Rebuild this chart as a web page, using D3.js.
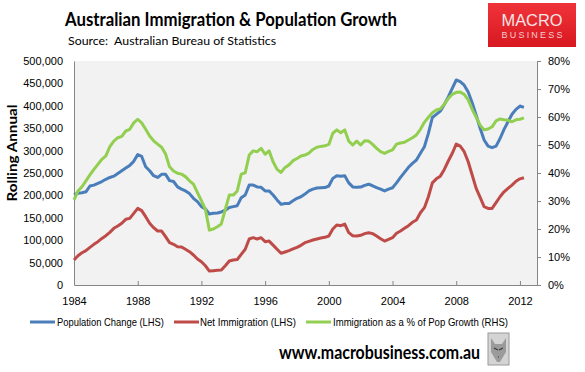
<!DOCTYPE html>
<html>
<head>
<meta charset="utf-8">
<script src="https://cdn.jsdelivr.net/npm/d3@7"></script>
<style>
  html, body { margin: 0; padding: 0; background: #fff; }
  svg { display: block; }
</style>
</head>
<body>
<svg id="chart"></svg>
<script>
// Quarterly data, 1984 Q1 .. 2012 Q2
var startYear = 1984;
var quarterCount = 114;

// Population change, rolling annual (thousands, LHS)
var popChange = [
  201, 205, 206, 208,   221, 223, 227, 231,   236, 240, 243, 249,   255, 261, 267, 276,
  291, 287, 264, 255,   244, 240, 247, 247,   233, 231, 219, 214,   210, 204, 193.5, 186,
  175, 170, 158.5, 160, 160.7, 163, 167, 173, 175, 177, 195, 201,   223, 223, 219, 218,
  210, 210, 201, 190,   180, 182, 182, 188,   193.5, 197, 203, 210, 214, 216.5, 217, 217.5,
  221, 238, 244, 243,   244, 228, 219, 218,   218.5, 222.5, 225, 221.5, 217.5, 214, 210, 214,
  217, 228, 240, 251.5, 262.7, 271.6, 279, 294, 308.7, 338.5, 374, 381, 388, 403, 420, 439,
  457.6, 454, 446, 431, 407, 379, 350, 323.6, 310, 306.5, 310, 327, 347.5, 364.5, 381, 392,
  399.5, 396.6
];

// Net immigration, rolling annual (thousands, LHS)
var netImmigration = [
  55.8, 65.4, 72, 76.6, 84, 90.8, 96.7, 104,  110, 117.6, 126.5, 131.7, 137.7, 146.6, 148.8, 160,
  171, 166, 152.5, 137.7, 128, 120.5, 120.5, 108, 94.5, 90.8, 85.5, 85, 79.7, 74.4, 67, 58,
  52, 43, 31, 32,      32.7, 33.5, 43, 53.6, 55.8, 57, 68.5, 79.7, 102.7, 105.6, 102.7, 105.6,
  96.7, 98, 89, 79.7,  70.8, 73.7, 76.6, 80.4, 84, 88.6, 94.5, 97.5, 100.4, 102.7, 104.9, 106.4,
  109.4, 125, 134, 132.4, 136, 116.8, 110, 109.4, 111, 114.6, 116.8, 114.6, 109.4, 103.4, 98.2, 102,
  105.6, 115.4, 120.5, 126.5, 132.4, 140, 145, 161.4, 172.6, 197, 228, 237, 243, 258, 276.8, 294,
  314.7, 310, 297.5, 275, 245.5, 215.8, 195.7, 174.8, 171, 171, 183.7, 197, 208, 215.8, 223, 231.5,
  237, 239.5
];

// Immigration as % of population growth (RHS)
var immigrationShare = [
  30.4, 33.6, 35.1, 37.2, 39.3, 41.3, 43.1, 44.9, 46.1, 49.4, 51.4, 52.6, 53.1, 55, 55.6, 57.9,
  59.2, 57.9, 55.6, 53.2, 51.5, 50.3, 49.2, 46.8, 42.2, 40.7, 39.9, 39.6, 38.7, 37.2, 36, 33,
  30.1, 27, 19.6, 20,  20.8, 21.8, 27, 32.1,  32.1, 33.6, 39.6, 40.1, 46.4, 47.9, 47.6, 48.8,
  46.7, 47.9, 44, 41.3, 40.2, 42, 42.9, 44.4, 45.2, 46.1, 46.4, 47.1, 48.4, 49.2, 49.5, 49.7,
  50.2, 54.2, 55.4, 54.4, 55.4, 51.4, 50, 51.4, 50, 51.5, 51.4, 50.2, 48.8, 47.6, 47, 47.7,
  48.3, 50.3, 50.7, 51, 51.8, 52.6, 53.6, 55.6, 58.1, 59.9, 61.5, 62.5, 62.9, 64.6, 66.6, 68.1,
  68.8, 68.9, 68.1, 66.1, 62.7, 59.9, 57.1, 55.4, 55.7, 56.5, 58.6, 59.3, 59, 58.8, 58.3, 59,
  59.2, 59.7
];

var yearTicks = [1984, 1988, 1992, 1996, 2000, 2004, 2008, 2012];
var leftTicks = [0, 50, 100, 150, 200, 250, 300, 350, 400, 450, 500];
var rightTicks = [0, 10, 20, 30, 40, 50, 60, 70, 80];
var seriesNames = ["Population Change (LHS)", "Net Immigration (LHS)", "Immigration as a % of Pop Growth (RHS)"];
var seriesColors = ["#4a7ebb", "#be4b48", "#92cf50"];

var W = 585, H = 372;
var plot = { left: 74, right: 537, top: 61, bottom: 285 };

var svg = d3.select("#chart").attr("width", W).attr("height", H);

var quarters = d3.range(quarterCount).map(function (i) { return startYear + i / 4; });

var x = d3.scaleLinear().domain([1984, 2013.07]).range([plot.left, plot.right]);
var yL = d3.scaleLinear().domain([0, 500]).range([plot.bottom, plot.top]);
var yR = d3.scaleLinear().domain([0, 80]).range([plot.bottom, plot.top]);

// plot background
svg.append("rect")
  .attr("x", plot.left).attr("y", plot.top)
  .attr("width", plot.right - plot.left).attr("height", plot.bottom - plot.top)
  .attr("fill", "#f2f2f2");

var axisColor = "#868686";
var tickFont = "'Liberation Sans', Arial, sans-serif";

// left axis
var gL = svg.append("g")
  .attr("transform", "translate(" + plot.left + ",0)")
  .call(d3.axisLeft(yL).tickValues(leftTicks).tickSize(0).tickPadding(11)
    .tickFormat(function (d) { return d3.format(",")(d * 1000); }));

// right axis
var gR = svg.append("g")
  .attr("transform", "translate(" + plot.right + ",0)")
  .call(d3.axisRight(yR).tickValues(rightTicks).tickSizeInner(4).tickSizeOuter(0).tickPadding(7)
    .tickFormat(function (d) { return d + "%"; }));

// bottom axis
var gB = svg.append("g")
  .attr("transform", "translate(0," + plot.bottom + ")")
  .call(d3.axisBottom(x).tickValues(yearTicks).tickSizeInner(-4).tickSizeOuter(0).tickPadding(12)
    .tickFormat(d3.format("d")));

[gL, gR, gB].forEach(function (g) {
  g.select(".domain").attr("stroke", axisColor);
  g.selectAll(".tick line").attr("stroke", axisColor);
  g.selectAll("text").attr("font-family", tickFont).attr("font-size", 11).attr("fill", "#000");
});

// lines
var lineL = d3.line()
  .x(function (d, i) { return x(quarters[i]); })
  .y(function (d) { return yL(d); });
var lineR = d3.line()
  .x(function (d, i) { return x(quarters[i]); })
  .y(function (d) { return yR(d); });

svg.append("path").datum(netImmigration)
  .attr("d", lineL).attr("fill", "none").attr("stroke", seriesColors[1])
  .attr("stroke-width", 3).attr("stroke-linejoin", "round");
svg.append("path").datum(popChange)
  .attr("d", lineL).attr("fill", "none").attr("stroke", seriesColors[0])
  .attr("stroke-width", 3).attr("stroke-linejoin", "round");
svg.append("path").datum(immigrationShare)
  .attr("d", lineR).attr("fill", "none").attr("stroke", seriesColors[2])
  .attr("stroke-width", 3).attr("stroke-linejoin", "round");

// titles
svg.append("text")
  .attr("x", 65).attr("y", 26)
  .attr("font-family", "Lato, 'Open Sans', sans-serif").attr("font-weight", "bold")
  .attr("font-size", 18).attr("textLength", 332).attr("lengthAdjust", "spacingAndGlyphs")
  .text("Australian Immigration & Population Growth");

svg.append("text")
  .attr("x", 68).attr("y", 45)
  .attr("font-family", "Lato, 'Open Sans', sans-serif")
  .attr("font-size", 12).attr("textLength", 208).attr("lengthAdjust", "spacingAndGlyphs")
  .attr("xml:space", "preserve")
  .text("Source:  Australian Bureau of Statistics");

svg.append("text")
  .attr("transform", "translate(17,153) rotate(-90)")
  .attr("text-anchor", "middle")
  .attr("font-family", "Lato, 'Open Sans', sans-serif").attr("font-weight", "bold")
  .attr("font-size", 14).attr("textLength", 97).attr("lengthAdjust", "spacingAndGlyphs")
  .text("Rolling Annual");

// logo
var grad = svg.append("defs").append("linearGradient")
  .attr("id", "logoGrad").attr("x1", 0).attr("y1", 0).attr("x2", 0).attr("y2", 1);
grad.append("stop").attr("offset", "0%").attr("stop-color", "#f0333a");
grad.append("stop").attr("offset", "100%").attr("stop-color", "#d81820");

svg.append("rect").attr("x", 488).attr("y", 3).attr("width", 88).attr("height", 44)
  .attr("fill", "url(#logoGrad)");
svg.append("text").attr("x", 532).attr("y", 26).attr("text-anchor", "middle")
  .attr("font-family", "'Liberation Sans', Arial, sans-serif").attr("font-size", 17)
  .attr("fill", "#f6e4e4").attr("textLength", 61).attr("lengthAdjust", "spacingAndGlyphs")
  .text("MACRO");
svg.append("text").attr("x", 532).attr("y", 38).attr("text-anchor", "middle")
  .attr("font-family", "'Liberation Sans', Arial, sans-serif").attr("font-size", 9)
  .attr("fill", "#f3cccc").attr("textLength", 61).attr("lengthAdjust", "spacing")
  .text("BUSINESS");

// legend
var legendItems = [
  { x: 30, textX: 57, w: 107 },
  { x: 174, textX: 200, w: 96 },
  { x: 306, textX: 333, w: 175 }
];
var legend = svg.append("g");
legendItems.forEach(function (d, i) {
  legend.append("line")
    .attr("x1", d.x).attr("x2", d.x + 25).attr("y1", 322).attr("y2", 322)
    .attr("stroke", seriesColors[i]).attr("stroke-width", 3);
  legend.append("text")
    .attr("x", d.textX).attr("y", 326)
    .attr("font-family", tickFont).attr("font-size", 11)
    .attr("textLength", d.w).attr("lengthAdjust", "spacingAndGlyphs")
    .text(seriesNames[i]);
});

// footer
svg.append("text")
  .attr("x", 279).attr("y", 359)
  .attr("font-family", "Lato, 'Open Sans', sans-serif").attr("font-weight", "bold")
  .attr("font-size", 19).attr("textLength", 201).attr("lengthAdjust", "spacingAndGlyphs")
  .text("www.macrobusiness.com.au");

// small wolf badge
var badge = svg.append("g");
badge.append("rect").attr("x", 488).attr("y", 333).attr("width", 21).attr("height", 32)
  .attr("fill", "#d4d4d4").attr("stroke", "#9a9a9a").attr("stroke-width", 1);
badge.append("path")
  .attr("d", "M491,338 L495,344 L502,344 L506,338 L506,352 L500,362 L497,362 L491,352 Z")
  .attr("fill", "#8c8c8c").attr("opacity", 0.8);
badge.append("path")
  .attr("d", "M494,348 L498,350 M503,348 L499,350 M498,357 L499,357")
  .attr("stroke", "#3a3a3a").attr("stroke-width", 1.2);
</script>
</body>
</html>
